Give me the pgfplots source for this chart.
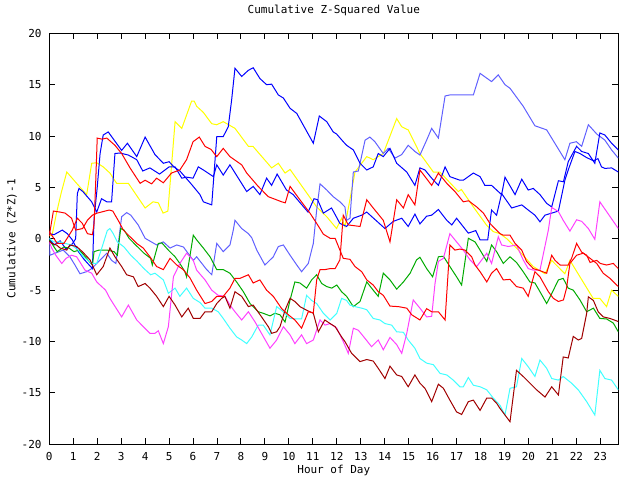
\documentclass[border=0pt]{standalone}
\usepackage{fontspec}
\setmainfont{DejaVu Sans Mono}
\usepackage{pgfplots}
\pgfplotsset{compat=1.18}
\definecolor{gpgreen}{RGB}{0,170,0}
\definecolor{gpperi}{RGB}{96,96,255}
\definecolor{gpmag}{RGB}{255,64,255}
\definecolor{gpcyan}{RGB}{64,255,255}
\definecolor{gpdred}{RGB}{160,0,0}
\definecolor{gpyel}{RGB}{255,255,0}
\begin{document}
\fontsize{11bp}{13bp}\selectfont
\begin{tikzpicture}
\path[use as bounding box] (-49.3bp,-35.7bp) rectangle (590.7bp,444.3bp);
\begin{axis}[
  at={(0,0)}, anchor=south west,
  scale only axis, width=569bp, height=411bp,
  xmin=0, xmax=23.75, ymin=-20, ymax=20,
  xtick={0,1,...,23},
  xticklabels={0,1,2,3,4,5,6,7,8,9,10,11,12,13,14,15,16,17,18,19,20,21,22,23},
  ytick={-20,-15,-10,-5,0,5,10,15,20},
  yticklabels={-20,-15,-10,-5,0,5,10,15,20},
  tick align=inside, major tick length=6bp,
  tick style={black, line width=1bp},
  axis line style={black, line width=1bp},
  xticklabel style={anchor=center, yshift=-12bp, font=\fontsize{11bp}{13bp}\selectfont},
  yticklabel style={anchor=east, inner sep=0pt, xshift=-7.5bp, font=\fontsize{11bp}{13bp}\selectfont},
  title={Cumulative Z-Squared Value},
  title style={at={(axis description cs:0.5,1)}, anchor=center, yshift=17.3bp, font=\fontsize{11bp}{13bp}\selectfont},
  xlabel={Hour of Day},
  xlabel style={at={(axis description cs:0.5,-0.0625)}, anchor=center, font=\fontsize{11bp}{13bp}\selectfont},
  ylabel={Cumulative (Z*Z)-1},
  ylabel style={at={(axis description cs:-0.0656,0.5)}, anchor=center, font=\fontsize{11bp}{13bp}\selectfont},
  every axis plot/.append style={line width=1bp, no markers, line join=miter},
]
% yellow
\addplot[gpyel] coordinates {(0,0.3)(0.12,0.4)(0.3,2.5)(0.5,4.5)(0.73,6.5)(1.14,5.4)(1.56,4.3)(1.77,7.35)(1.98,7.4)(2.25,7.0)(2.53,6.4)(2.81,5.4)(3.3,5.4)(3.65,4.2)(4.0,3.0)(4.33,3.6)(4.55,3.5)(4.75,2.5)(4.95,2.7)(5.25,11.4)(5.53,10.75)(5.94,13.4)(6.05,13.4)(6.15,12.9)(6.43,12.3)(6.78,11.2)(6.99,11.1)(7.26,11.4)(7.75,10.75)(8.31,9.0)(8.5,9.0)(9.28,6.9)(9.56,7.35)(9.84,6.4)(10.05,6.75)(10.46,5.4)(11.16,3.1)(11.58,2.15)(11.99,1.0)(12.2,2.0)(12.34,1.2)(12.76,6.5)(13.25,8.0)(13.52,7.7)(13.94,8.3)(14.5,11.7)(14.71,10.9)(14.98,10.6)(15.47,8.3)(16.03,6.5)(16.3,6.5)(17.07,4.6)(17.2,4.8)(17.7,3.1)(18.26,1.3)(18.53,0.7)(18.81,0.5)(19.1,0)(19.23,-0.3)(19.5,-0.9)(20.2,-2.7)(20.69,-3.4)(20.97,-2.1)(21.52,-3.4)(21.73,-2.1)(22.15,-3.7)(22.7,-5.8)(22.98,-5.8)(23.26,-6.6)(23.47,-5.0)(23.75,-5.6)};
% periwinkle
\addplot[gpperi] coordinates {(0,-0.5)(0.03,-1.6)(0.24,-1.4)(0.58,-1.1)(0.86,-1.75)(1.07,-2.55)(1.28,-3.4)(1.56,-3.2)(1.77,-2.9)(2.4,-1.4)(2.6,-2.1)(2.78,-2.4)(2.95,0.85)(3.02,2.15)(3.23,2.55)(3.4,2.3)(3.71,1.35)(4.0,0.05)(4.48,-0.6)(4.76,-0.3)(5.04,-0.9)(5.32,-0.6)(5.6,-0.8)(6.01,-2.1)(6.15,-1.75)(6.57,-3.0)(6.78,-3.5)(6.99,-0.45)(7.26,-1.25)(7.54,-0.6)(7.68,0.85)(7.75,1.8)(8.03,1.0)(8.31,0.5)(8.45,0.1)(8.66,-1.1)(9.0,-2.55)(9.35,-1.75)(9.56,-0.75)(9.77,-0.6)(10.05,-1.6)(10.33,-2.55)(10.53,-3.2)(10.81,-2.4)(11.02,-0.45)(11.16,2.8)(11.3,5.35)(11.58,4.75)(11.85,4.1)(12.13,3.6)(12.34,3.1)(12.41,1.8)(12.55,2.0)(12.69,6.5)(12.9,6.6)(13.18,9.6)(13.38,9.9)(13.59,9.45)(13.94,8.3)(14.15,8.8)(14.43,7.85)(14.71,8.2)(14.98,9.1)(15.26,8.5)(15.47,8.15)(15.75,9.6)(15.96,10.75)(16.24,9.8)(16.52,13.9)(16.72,14.0)(17.7,14.0)(17.98,16.1)(18.46,15.3)(18.74,15.95)(19.02,15.0)(19.23,14.65)(19.78,12.9)(20.27,11.0)(20.76,10.6)(21.52,7.7)(21.73,9.3)(22.0,9.45)(22.22,9.0)(22.5,11.1)(22.85,10.2)(23.19,9.6)(23.47,8.65)(23.75,7.85)};
% blue 2
\addplot[blue] coordinates {(0,0.0)(0.2,-0.6)(0.45,-0.2)(0.7,-1.0)(0.96,-0.5)(1.1,0.0)(1.17,4.4)(1.24,4.9)(1.4,4.6)(1.77,3.6)(1.98,2.6)(2.18,3.9)(2.4,3.6)(2.6,3.6)(2.74,8.3)(2.95,8.35)(3.3,8.15)(3.65,7.7)(3.9,6.6)(4.2,6.9)(4.6,6.3)(5.0,7.0)(5.25,7.0)(5.53,5.9)(5.73,6.0)(6.0,5.9)(6.22,7.0)(6.43,6.7)(6.85,6.05)(6.99,7.2)(7.26,6.2)(7.54,7.2)(8.24,4.6)(8.51,5.1)(8.79,4.3)(9.07,5.9)(9.28,5.2)(9.51,6.3)(9.9,4.75)(10.18,4.3)(10.8,2.6)(11.05,3.9)(11.2,3.8)(11.44,2.5)(11.78,3.0)(12.13,1.5)(12.41,1.2)(12.69,2.0)(13.04,2.3)(13.25,2.6)(14.01,1.0)(14.36,1.7)(14.71,2.0)(14.98,1.2)(15.26,2.4)(15.47,1.45)(15.75,2.2)(15.96,2.3)(16.24,2.85)(16.59,1.8)(16.8,1.35)(17.0,2.0)(17.49,0.55)(17.8,0.8)(17.98,-0.1)(18.3,-0.1)(18.46,2.8)(18.67,2.3)(18.88,4.4)(19.3,3.0)(19.72,3.3)(19.99,2.8)(20.27,2.3)(20.48,1.65)(20.69,2.3)(20.97,2.5)(21.25,2.7)(21.52,5.7)(21.66,6.7)(21.94,8.5)(22.15,8.3)(22.43,7.9)(22.71,7.6)(22.9,7.8)(23.05,7.0)(23.19,6.85)(23.47,6.9)(23.75,6.5)};
% blue 1
\addplot[blue] coordinates {(0,0.5)(0.2,0.4)(0.54,0.85)(0.75,0.5)(0.96,-0.1)(1.2,-1.2)(1.45,-2.0)(1.8,-2.9)(1.87,2.0)(2.0,5.0)(2.12,8.3)(2.25,10.1)(2.46,10.4)(3.02,8.6)(3.26,9.3)(3.65,8.0)(4.0,9.9)(4.41,8.2)(4.76,7.35)(5.0,7.5)(5.2,7.0)(5.45,6.6)(5.9,5.4)(6.29,4.3)(6.43,3.6)(6.78,3.3)(6.99,9.95)(7.26,9.95)(7.47,10.9)(7.61,13.5)(7.75,16.6)(8.03,15.8)(8.31,16.4)(8.51,16.65)(8.79,15.6)(9.07,15.0)(9.28,15.05)(9.56,14.0)(9.77,13.7)(10.05,12.7)(10.33,12.2)(11.02,9.3)(11.27,11.95)(11.58,11.4)(11.85,10.4)(11.99,10.2)(12.27,9.45)(12.41,9.1)(12.69,8.65)(12.97,7.35)(13.25,6.7)(13.52,7.0)(13.73,8.3)(13.94,8.0)(14.22,8.8)(14.5,7.35)(14.92,6.5)(15.26,5.2)(15.47,6.9)(15.68,6.7)(15.96,5.9)(16.24,5.2)(16.52,7.0)(16.72,6.05)(17.14,5.7)(17.28,5.7)(17.7,6.4)(17.98,6.05)(18.18,5.2)(18.46,5.2)(18.67,4.75)(18.88,4.3)(19.02,6.0)(19.44,4.3)(19.72,5.8)(19.99,4.75)(20.2,4.9)(20.48,4.3)(20.76,3.45)(20.97,3.1)(21.25,5.65)(21.46,5.55)(21.66,7.5)(22.01,9.0)(22.22,8.5)(22.5,8.3)(22.77,7.35)(22.98,10.3)(23.19,10.1)(23.47,9.3)(23.75,8.65)};
% green
\addplot[gpgreen] coordinates {(0,-0.1)(0.06,-0.3)(0.2,-0.8)(0.33,-1.25)(0.61,-0.8)(0.82,-0.9)(1.03,-1.25)(1.24,-1.1)(1.45,-1.6)(1.66,-2.2)(1.8,-2.55)(1.87,-1.25)(2.07,-1.1)(2.42,-1.1)(2.7,-1.25)(2.84,-1.6)(2.91,-0.3)(2.98,1.0)(3.12,0.85)(3.33,0.05)(3.54,-0.45)(3.95,-1.4)(4.23,-1.9)(4.3,-2.55)(4.55,-0.45)(4.7,-0.4)(4.97,-1.1)(5.25,-1.75)(5.45,-2.4)(5.66,-3.2)(5.73,-3.7)(6.01,0.35)(6.15,-0.1)(6.43,-0.9)(6.71,-1.75)(6.99,-3.0)(7.26,-3.0)(7.54,-3.35)(7.82,-4.2)(8.1,-5.15)(8.38,-6.3)(8.72,-7.1)(8.93,-7.25)(9.21,-7.5)(9.42,-7.25)(9.63,-7.4)(9.84,-8.1)(10.05,-5.95)(10.25,-4.2)(10.46,-4.3)(10.74,-4.8)(10.95,-4.0)(11.16,-3.5)(11.37,-4.35)(11.58,-4.65)(11.79,-4.8)(12.0,-4.5)(12.2,-5.15)(12.41,-5.6)(12.69,-6.6)(12.97,-6.1)(13.25,-4.2)(13.52,-5.0)(13.73,-5.6)(13.94,-3.35)(14.22,-4.0)(14.5,-4.9)(14.78,-4.2)(15.06,-3.35)(15.33,-2.05)(15.47,-1.8)(15.75,-2.9)(16.0,-3.7)(16.24,-1.75)(16.45,-1.7)(16.72,-2.7)(17.0,-3.7)(17.21,-4.5)(17.49,0.05)(17.77,-0.3)(17.98,-1.1)(18.26,-2.2)(18.46,-0.6)(18.67,-1.25)(18.95,-2.4)(19.23,-1.75)(19.5,-2.3)(19.78,-3.2)(20.06,-4.2)(20.27,-4.3)(20.48,-5.15)(20.76,-6.3)(21.04,-5.0)(21.25,-4.0)(21.45,-3.85)(21.66,-4.8)(21.87,-5.0)(22.15,-5.95)(22.43,-7.1)(22.71,-6.75)(22.98,-7.75)(23.26,-7.8)(23.54,-8.2)(23.75,-9.05)};
% cyan
\addplot[gpcyan] coordinates {(0,0.05)(0.17,-0.3)(0.45,-0.3)(0.66,-0.45)(0.93,-0.6)(1.21,-1.1)(1.42,-1.75)(1.77,-2.4)(1.98,-2.4)(2.19,-0.9)(2.42,0.8)(2.53,1.0)(2.67,0.5)(2.84,-0.3)(3.12,-0.8)(3.4,-1.6)(3.67,-2.2)(3.95,-2.9)(4.23,-3.5)(4.41,-3.35)(4.76,-4.0)(4.97,-5.3)(5.25,-4.8)(5.45,-5.6)(5.73,-4.8)(6.01,-5.8)(6.29,-6.2)(6.5,-6.75)(6.78,-6.75)(7.05,-7.1)(7.26,-7.75)(7.54,-8.7)(7.82,-9.55)(8.03,-9.85)(8.24,-10.2)(8.45,-9.55)(8.72,-8.4)(8.93,-8.4)(9.21,-9.35)(9.49,-6.6)(9.77,-7.1)(10.05,-7.75)(10.33,-7.8)(10.53,-7.8)(10.74,-5.5)(10.95,-6.0)(11.16,-6.3)(11.44,-7.25)(11.72,-7.9)(12.0,-7.25)(12.2,-5.8)(12.41,-6.0)(12.55,-6.45)(12.76,-6.6)(13.04,-6.75)(13.25,-6.9)(13.52,-7.75)(13.8,-7.9)(14.01,-8.25)(14.29,-8.4)(14.5,-9.05)(14.78,-9.1)(14.98,-9.85)(15.26,-10.65)(15.47,-11.65)(15.75,-12.1)(16.03,-12.25)(16.31,-13.1)(16.59,-13.25)(16.86,-13.75)(17.14,-14.4)(17.28,-14.4)(17.49,-13.5)(17.7,-14.25)(17.98,-14.4)(18.26,-14.7)(18.53,-15.5)(18.81,-16.2)(19.02,-17.15)(19.23,-14.55)(19.5,-14.4)(19.72,-11.65)(19.99,-12.45)(20.27,-13.4)(20.48,-11.8)(20.76,-12.6)(20.97,-13.6)(21.25,-13.75)(21.45,-13.4)(21.8,-14.05)(22.08,-14.7)(22.43,-15.85)(22.77,-17.15)(22.98,-12.8)(23.19,-13.6)(23.47,-13.75)(23.75,-14.7)};
% magenta
\addplot[gpmag] coordinates {(0,-0.3)(0.1,-0.9)(0.27,-1.6)(0.52,-2.4)(0.7,-1.9)(0.93,-1.6)(1.14,-1.75)(1.49,-3.05)(1.77,-3.35)(1.98,-4.2)(2.35,-5.0)(2.53,-5.8)(3.02,-7.6)(3.3,-6.45)(3.65,-7.9)(3.86,-8.4)(4.2,-9.2)(4.41,-9.2)(4.55,-8.95)(4.76,-10.2)(4.97,-8.55)(5.18,-3.7)(5.45,-2.4)(5.73,-1.4)(6.01,-2.1)(6.15,-3.05)(6.5,-4.0)(6.78,-5.0)(7.05,-5.5)(7.33,-5.6)(7.54,-6.45)(7.75,-7.1)(8.03,-7.9)(8.31,-7.1)(8.59,-8.1)(8.93,-9.5)(9.21,-10.65)(9.49,-9.85)(9.77,-8.55)(10.05,-9.35)(10.25,-10.2)(10.53,-9.35)(10.74,-10.2)(11.02,-9.85)(11.3,-7.9)(11.51,-8.4)(11.72,-8.25)(12.0,-8.7)(12.27,-10.0)(12.48,-11.15)(12.69,-8.7)(12.9,-8.9)(13.18,-9.7)(13.45,-10.5)(13.73,-9.85)(13.94,-10.8)(14.22,-9.6)(14.5,-10.3)(14.71,-11.15)(14.92,-9.2)(15.19,-5.95)(15.47,-6.75)(15.75,-7.6)(15.96,-7.55)(16.1,-4.35)(16.24,-2.2)(16.45,-1.9)(16.72,0.5)(16.93,-0.1)(17.28,-1.1)(17.56,-2.05)(17.84,-2.7)(18.26,-1.4)(18.46,-2.4)(18.74,0.2)(18.88,-0.6)(19.16,-0.75)(19.5,-0.6)(19.78,-2.05)(19.99,-2.9)(20.2,-3.05)(20.48,-3.05)(20.83,0.85)(20.97,3.05)(21.25,2.65)(21.45,1.8)(21.73,0.75)(22.01,1.85)(22.22,1.7)(22.5,1.0)(22.77,-0.05)(22.98,3.6)(23.75,1.0)};
% dark red
\addplot[gpdred] coordinates {(0,-0.2)(0.1,-0.45)(0.3,-0.6)(0.45,-0.9)(0.73,-1.1)(0.86,-0.6)(1.14,-0.75)(1.4,-1.3)(1.7,-2.05)(1.98,-3.5)(2.25,-2.7)(2.53,-0.9)(2.74,-1.75)(3.02,-2.7)(3.23,-3.5)(3.51,-3.7)(3.71,-4.65)(4.0,-4.35)(4.2,-4.8)(4.48,-5.6)(4.76,-6.6)(5.0,-5.6)(5.25,-6.45)(5.53,-7.6)(5.8,-6.75)(6.01,-7.75)(6.29,-7.75)(6.5,-7.1)(6.78,-7.1)(6.99,-6.3)(7.19,-5.8)(7.33,-5.6)(7.54,-6.75)(7.75,-5.15)(8.03,-5.6)(8.31,-6.6)(8.51,-6.45)(8.86,-7.6)(9.14,-8.55)(9.28,-9.2)(9.49,-9.05)(9.63,-8.55)(9.84,-6.95)(10.05,-5.8)(10.25,-6.1)(10.46,-6.6)(10.74,-6.95)(11.02,-7.25)(11.23,-9.05)(11.5,-7.9)(11.72,-8.25)(11.93,-8.55)(12.2,-9.55)(12.34,-10.0)(12.62,-11.15)(12.97,-11.95)(13.25,-11.75)(13.52,-11.9)(13.73,-12.6)(14.01,-13.6)(14.22,-12.4)(14.5,-13.25)(14.71,-13.4)(14.98,-14.4)(15.26,-13.25)(15.47,-14.05)(15.68,-14.55)(15.96,-15.85)(16.24,-14.15)(16.45,-14.55)(16.72,-15.7)(17.0,-16.85)(17.21,-17.1)(17.49,-15.85)(17.7,-15.7)(17.98,-16.7)(18.26,-15.5)(18.46,-15.5)(18.67,-16.0)(18.81,-16.5)(19.02,-17.15)(19.23,-17.8)(19.5,-12.8)(19.78,-13.4)(20.06,-14.05)(20.34,-14.7)(20.69,-15.4)(20.97,-14.4)(21.25,-15.2)(21.45,-11.5)(21.66,-11.6)(21.87,-9.5)(22.08,-9.85)(22.22,-9.7)(22.43,-7.25)(22.5,-5.65)(22.71,-6.0)(22.91,-7.1)(23.12,-7.6)(23.4,-7.75)(23.75,-8.05)};
% red 2
\addplot[red] coordinates {(0,0.3)(0.17,2.7)(0.45,2.6)(0.66,2.5)(0.93,2.0)(1.1,0.85)(1.39,1.0)(1.59,1.8)(1.8,2.3)(2.0,2.5)(2.5,2.8)(2.65,2.7)(2.91,1.65)(3.09,0.85)(3.37,0.2)(3.65,-0.45)(3.92,-0.9)(4.2,-1.75)(4.48,-2.7)(4.76,-3.0)(5.04,-1.9)(5.32,-2.55)(5.59,-3.0)(5.87,-3.8)(6.15,-5.0)(6.5,-6.3)(6.78,-6.1)(6.99,-5.6)(7.26,-5.6)(7.54,-4.8)(7.75,-3.85)(7.96,-3.85)(8.31,-3.5)(8.51,-4.3)(8.79,-4.0)(9.07,-5.0)(9.35,-5.6)(9.7,-6.8)(9.98,-7.4)(10.25,-7.9)(10.53,-8.7)(10.81,-7.1)(11.02,-7.2)(11.16,-4.0)(11.3,-3.0)(11.5,-3.0)(11.72,-2.9)(11.93,-2.9)(12.13,-2.05)(12.27,2.3)(12.48,1.35)(12.97,1.2)(13.25,3.8)(13.52,3.0)(13.94,1.8)(14.22,-0.3)(14.5,3.8)(14.78,3.0)(14.98,4.3)(15.26,3.3)(15.47,6.7)(15.96,5.2)(16.24,6.4)(16.59,5.4)(16.93,4.6)(17.28,3.6)(17.5,3.7)(17.84,3.1)(18.12,2.5)(18.39,1.5)(18.81,0.5)(18.95,0.35)(19.23,0.35)(19.44,-0.45)(19.72,-1.1)(19.92,-2.2)(20.2,-2.9)(20.48,-3.1)(20.76,-3.35)(20.97,-1.6)(21.11,-2.1)(21.32,-2.55)(21.66,-2.55)(21.8,-1.9)(22.01,-0.45)(22.22,-1.3)(22.43,-1.6)(22.57,-2.3)(22.85,-2.1)(23.0,-2.4)(23.26,-2.55)(23.54,-2.4)(23.75,-2.9)};
% red 1
\addplot[red] coordinates {(0,0.7)(0.33,-0.45)(0.61,-0.45)(0.96,0.85)(1.17,2.0)(1.38,1.5)(1.59,0.5)(1.8,0.4)(1.87,1.5)(1.94,5.7)(2.0,9.8)(2.2,9.7)(2.4,9.8)(2.74,9.1)(3.02,8.3)(3.37,6.9)(3.79,5.4)(4.0,5.7)(4.27,5.35)(4.48,5.9)(4.76,5.45)(5.1,6.4)(5.45,6.7)(5.73,7.7)(6.0,9.45)(6.26,9.9)(6.5,9.0)(6.75,8.7)(6.99,8.0)(7.26,8.8)(7.54,8.0)(8.03,7.2)(8.24,6.4)(8.72,5.1)(9.14,4.1)(9.7,3.6)(9.85,3.5)(10.05,5.1)(10.46,3.8)(10.88,2.5)(11.16,1.5)(11.44,0.45)(11.72,0.05)(11.93,0.05)(12.13,-1.1)(12.27,-1.9)(12.55,-2.0)(12.76,-2.7)(13.04,-3.2)(13.25,-4.0)(13.52,-4.5)(13.73,-5.15)(13.94,-5.5)(14.22,-6.55)(14.57,-6.6)(14.92,-6.75)(15.13,-7.4)(15.47,-7.9)(15.75,-6.8)(15.96,-7.1)(16.24,-7.1)(16.52,-7.9)(16.72,-0.6)(16.93,-1.1)(17.14,-1.0)(17.35,-1.1)(17.63,-1.75)(17.77,-2.55)(17.98,-3.2)(18.26,-4.2)(18.46,-3.35)(18.67,-2.9)(18.95,-4.0)(19.23,-3.95)(19.5,-4.65)(19.78,-4.8)(19.99,-5.6)(20.27,-3.2)(20.48,-3.7)(20.83,-5.15)(21.04,-5.8)(21.25,-6.1)(21.46,-5.95)(21.59,-4.8)(21.73,-2.4)(22.01,-1.6)(22.29,-1.4)(22.57,-1.9)(22.85,-2.4)(23.12,-3.35)(23.4,-3.85)(23.75,-4.65)};
\end{axis}
\end{tikzpicture}
\end{document}
